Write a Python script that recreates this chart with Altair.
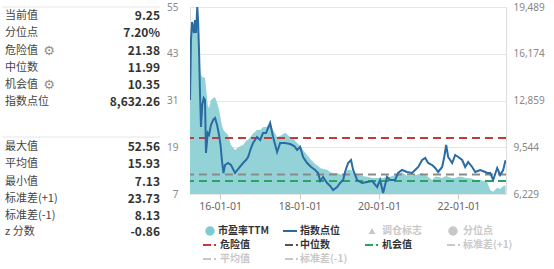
import altair as alt
import pandas as pd

# ---------------- data ----------------
dates = [
    "2015-03-30", "2015-04-08", "2015-04-18", "2015-04-27", "2015-05-06", "2015-05-15", "2015-05-24",
    "2015-06-05", "2015-06-12", "2015-06-21", "2015-06-30", "2015-07-09", "2015-07-21", "2015-08-03",
    "2015-08-15", "2015-08-24", "2015-09-09", "2015-09-21", "2015-10-09", "2015-10-28", "2015-11-15",
    "2015-12-04", "2015-12-22",
    "2016-01-05", "2016-01-17", "2016-02-01", "2016-02-15", "2016-03-14", "2016-04-10", "2016-05-17",
    "2016-06-23", "2016-07-30", "2016-08-26", "2016-09-14", "2016-10-11", "2016-10-30", "2016-12-05",
    "2017-01-03", "2017-01-30", "2017-02-27", "2017-04-05", "2017-05-02", "2017-06-08", "2017-07-06",
    "2017-08-21", "2017-10-06", "2017-11-12", "2017-12-09",
    "2018-01-06", "2018-02-02", "2018-03-11", "2018-04-17", "2018-05-24", "2018-06-20", "2018-07-09",
    "2018-08-05", "2018-09-11", "2018-10-09", "2018-11-05", "2018-12-12",
    "2019-01-08", "2019-02-05", "2019-02-23", "2019-03-23", "2019-04-19", "2019-05-08", "2019-06-14",
    "2019-07-30", "2019-09-14", "2019-10-30", "2019-12-15",
    "2020-01-11", "2020-02-08", "2020-03-15", "2020-04-12", "2020-05-28", "2020-06-25", "2020-07-31",
    "2020-09-15", "2020-10-31", "2020-11-28", "2020-12-27",
    "2021-02-01", "2021-03-01", "2021-03-28", "2021-05-04", "2021-06-01", "2021-06-28", "2021-08-04",
    "2021-08-23", "2021-09-10", "2021-09-28", "2021-11-04", "2021-12-02", "2021-12-30",
    "2022-02-04", "2022-03-04", "2022-03-31", "2022-05-07", "2022-06-04", "2022-07-20", "2022-09-04",
    "2022-09-22", "2022-10-20", "2022-11-16", "2022-12-23",
    "2023-01-19", "2023-02-16", "2023-03-10",
]

pe_ttm = [
    31.1, 45.2, 49.6, 50.4, 49.1, 51.1, 49.6, 52.56, 51.1, 45.2, 40.1, 37.6, 37.0, 37.0, 36.8, 34.5,
    29.8, 29.0, 31.1, 31.6, 31.9, 30.4, 28.6,
    26.5, 24.7, 23.4, 22.9, 22.2, 19.6, 18.3, 19.1, 19.6, 20.6, 20.9, 21.9, 22.5, 23.4,
    23.4, 24.2, 24.2, 25.0, 23.4, 21.6, 21.9, 22.7, 21.6, 20.9, 20.1,
    19.3, 18.3, 17.0, 15.7, 14.7, 14.2, 13.7, 13.4, 13.2, 12.6, 12.4, 12.4,
    12.1, 11.9, 12.4, 13.2, 13.2, 12.4, 11.9, 11.6, 11.4, 11.1, 11.1,
    11.1, 11.1, 11.4, 11.4, 11.9, 12.1, 12.6, 11.6, 11.6, 11.9, 12.1,
    12.4, 11.9, 11.4, 10.6, 11.4, 11.4, 11.1, 11.4, 11.6, 11.4, 11.1, 11.1, 11.4,
    11.4, 11.1, 11.1, 10.9, 10.6, 10.6, 10.3, 10.1, 8.0, 7.6, 8.6,
    8.3, 9.0, 9.25,
]

index_pts = [
    12894, 17149, 18426, 18000, 17645, 18567, 17645, 19489, 18567, 16440, 13391, 10980, 12540, 13036,
    12894, 9136, 10555, 10413, 11122, 11476, 11618, 11122, 10413,
    9704, 8640, 7718, 8285, 8427, 8285, 7718, 8073, 8427, 8640, 8853, 9491, 9845, 10271,
    10058, 10555, 10555, 11264, 10271, 9207, 9845, 9845, 9775, 9633, 9349,
    9562, 8853, 8427, 8144, 7931, 7718, 7151, 7434, 7009, 6796, 6513, 6725,
    7009, 7222, 7789, 8427, 8640, 7931, 7222, 7009, 7080, 7151, 6725,
    7222, 6300, 7434, 7222, 7222, 7718, 7931, 7789, 7718, 7931, 8144,
    8640, 8782, 8427, 8285, 8073, 7789, 8144, 8853, 9704, 8853, 8427, 8994, 8853,
    8640, 8144, 8498, 8144, 7789, 7931, 7789, 7718, 7718, 7222, 8073,
    7576, 7931, 8632,
]

danger_value = 21.38
median_value = 11.99
chance_value = 10.35

pe_ticks = [7, 19, 31, 43, 55]
index_ticks = [6229, 9544, 12859, 16174, 19489]
x_tick_years = [2016, 2018, 2020, 2022]

panel1_labels = ["当前值", "分位点", "危险值", "中位数", "机会值", "指数点位"]
panel1_values = ["9.25", "7.20%", "21.38", "11.99", "10.35", "8,632.26"]
panel2_labels = ["最大值", "平均值", "最小值", "标准差(+1)", "标准差(-1)", "z 分数"]
panel2_values = ["52.56", "15.93", "7.13", "23.73", "8.13", "-0.86"]

# ---------------- style ----------------
FONT = "Noto Sans CJK SC"
AREA_C = "#93d3d8"
LINE_C = "#2a6ba2"
RED = "#c4393a"
GRAY = "#8a8a8a"
GREEN = "#2aa462"
OFF = "#c8c8c8"

df = pd.DataFrame({"date": pd.to_datetime(dates), "pe": pe_ttm, "idx": index_pts})
one = pd.DataFrame({"k": [0]})

x_enc = alt.X(
    "date:T",
    scale=alt.Scale(domain=[alt.DateTime(year=2015, month=3, date=30),
                            alt.DateTime(year=2023, month=3, date=14)]),
    axis=alt.Axis(
        values=[alt.DateTime(year=y, month=1, date=1) for y in x_tick_years],
        format="%y-%m-%d", title=None, grid=False, domain=False,
        tickColor="#cccccc", tickSize=5, labelColor="#666666", labelFontSize=10.5,
        labelFont="Noto Sans", labelPadding=2,
    ),
)

area = alt.Chart(df).mark_area(color=AREA_C, opacity=1).encode(
    x=x_enc,
    y=alt.Y("pe:Q", scale=alt.Scale(domain=[7, 55], nice=False, zero=False),
            axis=alt.Axis(values=pe_ticks, orient="left", title=None, domain=False, ticks=False,
                          labelPadding=12, labelColor="#888888", labelFontSize=10,
                          labelFont="Noto Sans", gridColor="#e6e6e6")),
    y2=alt.datum(7),
)


def hrule(v, color):
    return alt.Chart(one).mark_rule(color=color, strokeWidth=2, strokeDash=[8, 5]).encode(
        y=alt.datum(v))


left_layer = alt.layer(area, hrule(median_value, GRAY), hrule(chance_value, GREEN),
                       hrule(danger_value, RED))

line = alt.Chart(df).mark_line(color=LINE_C, strokeWidth=2, clip=True).encode(
    x=x_enc,
    y=alt.Y("idx:Q", scale=alt.Scale(domain=[6229, 19489], nice=False, zero=False),
            axis=alt.Axis(values=index_ticks, orient="right", format=",d", title=None,
                          domain=False, ticks=False, grid=False, labelPadding=7,
                          labelColor="#888888", labelFontSize=10, labelFont="Noto Sans")),
)


def txt(s, x, y, size=11, color="#333333", weight="normal", align="left", font=FONT):
    return alt.Chart(one).mark_text(
        text=s, align=align, baseline="middle", font=font, fontSize=size,
        color=color, fontWeight=weight,
    ).encode(x=alt.value(x), y=alt.value(y))


def seg(x1, x2, y, color, dash=None, width=2.0):
    kw = dict(color=color, strokeWidth=width)
    if dash is not None:
        kw["strokeDash"] = dash
    return alt.Chart(one).mark_rule(**kw).encode(
        x=alt.value(x1), x2=alt.value(x2), y=alt.value(y))


def dot(x, y, color, shape="circle", size=90):
    return alt.Chart(one).mark_point(shape=shape, filled=True, size=size, color=color,
                                     opacity=1).encode(x=alt.value(x), y=alt.value(y))


extras = []
# left stats panel
extras.append(seg(-188, -30, 0, "#e6e6e6", width=1))
extras.append(seg(-188, -30, 130, "#e6e6e6", width=1))
row1_y = [9, 26, 44, 61, 78, 95]
row2_y = [140, 157, 175, 192, 209, 225]
for lab, val, yy in zip(panel1_labels, panel1_values, row1_y):
    extras.append(txt(lab, -185, yy, size=11, color="#444444"))
    extras.append(txt(val, -30, yy, size=12, color="#333333", weight="bold", align="right"))
for lab, val, yy in zip(panel2_labels, panel2_values, row2_y):
    extras.append(txt(lab, -185, yy, size=11, color="#444444"))
    extras.append(txt(val, -30, yy, size=12, color="#333333", weight="bold", align="right"))
extras.append(txt("⚙", -141, 44, size=13, color="#8f8f8f", font="DejaVu Sans", align="center"))
extras.append(txt("⚙", -141, 78, size=13, color="#8f8f8f", font="DejaVu Sans", align="center"))

# custom legend
LD = [8, 3, 2, 3]
ly1, ly2, ly3 = 224, 238, 252
extras += [
    dot(20, ly1, "#7fcbd3"), txt("市盈率TTM", 28, ly1, size=10, weight="bold"),
    seg(93, 107, ly1, LINE_C), txt("指数点位", 110, ly1, size=10, weight="bold"),
    dot(182, ly1, OFF, shape="triangle-up", size=50), txt("调仓标志", 192, ly1, size=10, color=OFF, weight="bold"),
    dot(263, ly1, OFF), txt("分位点", 273, ly1, size=10, color=OFF, weight="bold"),
    seg(13, 27, ly2, RED, dash=LD), txt("危险值", 30, ly2, size=10, weight="bold"),
    seg(95, 109, ly2, "#555555", dash=LD), txt("中位数", 110, ly2, size=10, weight="bold"),
    seg(175, 189, ly2, GREEN, dash=LD), txt("机会值", 192, ly2, size=10, weight="bold"),
    seg(257, 271, ly2, OFF, dash=LD), txt("标准差(+1)", 273, ly2, size=10, color=OFF, weight="bold"),
    seg(13, 27, ly3, OFF, dash=LD), txt("平均值", 30, ly3, size=10, color=OFF, weight="bold"),
    seg(95, 109, ly3, OFF, dash=LD), txt("标准差(-1)", 110, ly3, size=10, color=OFF, weight="bold"),
]

chart = alt.layer(left_layer, line, *extras).resolve_scale(y="independent").properties(
    width=316, height=187,
    padding={"left": 190, "top": 7, "right": 48, "bottom": 75},
    autosize=alt.AutoSizeParams(type="none"),
).configure_view(stroke="#dddddd").configure(background="white")

chart.save("out.html", embed_options={"renderer": "svg", "actions": False})
